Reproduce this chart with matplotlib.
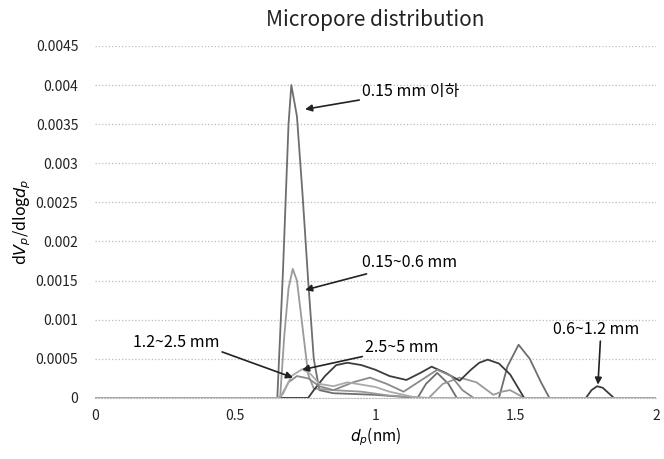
import numpy as np
import matplotlib
matplotlib.use('Agg')
import matplotlib.pyplot as plt

plt.rcParams['font.family'] = ['Noto Sans CJK KR', 'DejaVu Sans']

# Pore size (nm) and dV/dlogd for each sample
x_a = [0, 0.6, 0.65, 0.67, 0.69, 0.70, 0.72, 0.74, 0.76, 0.78, 0.80, 0.85, 1.0,
       1.15, 1.18, 1.22, 1.26, 1.29, 1.44, 1.47, 1.51, 1.55, 1.59, 1.62, 2.0]
y_a = [0, 0, 0, 0.0016, 0.0035, 0.0040, 0.0036, 0.0026, 0.0015, 0.0005, 0.0001, 0.00006, 0.00004,
       0, 0.00018, 0.00032, 0.00018, 0, 0, 0.0004, 0.00068, 0.0005, 0.0002, 0, 0]

x_b = [0, 0.6, 0.66, 0.675, 0.69, 0.705, 0.72, 0.74, 0.76, 0.78, 0.85, 0.95, 1.05, 1.19,
       1.24, 1.30, 1.36, 1.42, 1.45, 1.48, 1.53, 2.0]
y_b = [0, 0, 0, 0.0008, 0.0014, 0.00165, 0.0015, 0.0009, 0.0003, 0.00012, 0.0001, 0.00008, 0.00003, 0,
       0.00018, 0.00026, 0.0002, 0.00004, 0.00008, 0.0001, 0, 0]

x_c = [0, 0.76, 0.78, 0.82, 0.86, 0.90, 0.95, 1.0, 1.05, 1.11, 1.16, 1.20, 1.25,
       1.30, 1.34, 1.37, 1.40, 1.44, 1.48, 1.53, 1.75, 1.77, 1.79, 1.81, 1.85, 2.0]
y_c = [0, 0, 0.0001, 0.00028, 0.00042, 0.00045, 0.00042, 0.00036, 0.00028, 0.00023, 0.00032, 0.0004, 0.00032,
       0.00022, 0.00036, 0.00045, 0.00049, 0.00044, 0.0003, 0, 0, 0.0001, 0.00015, 0.00013, 0, 0]

x_d = [0, 0.64, 0.66, 0.69, 0.72, 0.76, 0.80, 0.85, 0.92, 0.98, 1.04, 1.10, 1.16,
       1.22, 1.27, 1.31, 1.35, 2.0]
y_d = [0, 0, 0, 0.0002, 0.00028, 0.00025, 0.00015, 0.0001, 0.0002, 0.00026, 0.00018, 0.00008, 0.00022,
       0.00036, 0.00028, 0.0001, 0, 0]

x_e = [0, 0.65, 0.67, 0.70, 0.74, 0.77, 0.80, 0.85, 0.90, 0.95, 1.0, 1.05, 1.10, 1.15, 2.0]
y_e = [0, 0, 0.00005, 0.00028, 0.00037, 0.0003, 0.00018, 0.00015, 0.0002, 0.00017, 0.00014, 0.00008, 0.00004, 0, 0]

y_ticks = [0, 0.0005, 0.001, 0.0015, 0.002, 0.0025, 0.003, 0.0035, 0.004, 0.0045]
y_tick_labels = ['0', '0.0005', '0.001', '0.0015', '0.002', '0.0025', '0.003', '0.0035', '0.004', '0.0045']
x_ticks = [0, 0.5, 1, 1.5, 2]
x_tick_labels = ['0', '0.5', '1', '1.5', '2']

fig = plt.figure(figsize=(6.64, 4.59), dpi=100)
ax = fig.add_axes([0.143, 0.133, 0.845, 0.767])

ax.plot(x_a, y_a, color='#6e6e6e', lw=1.3)
ax.plot(x_b, y_b, color='#9a9a9a', lw=1.3)
ax.plot(x_c, y_c, color='#3c3c3c', lw=1.3)
ax.plot(x_d, y_d, color='#8a8a8a', lw=1.3)
ax.plot(x_e, y_e, color='#aaaaaa', lw=1.3)

ax.set_xlim(0, 2)
ax.set_ylim(0, 0.0045)
ax.set_xticks(x_ticks)
ax.set_xticklabels(x_tick_labels)
ax.set_yticks(y_ticks)
ax.set_yticklabels(y_tick_labels)
ax.tick_params(length=0, labelsize=10, colors='#222222')
ax.tick_params(axis='y', pad=12)
ax.tick_params(axis='x', pad=8)
ax.grid(axis='y', color='#bbbbbb', ls=':', lw=0.9)
for s in ['top', 'right', 'left']:
    ax.spines[s].set_visible(False)
ax.spines['bottom'].set_color('#bbbbbb')
ax.spines['bottom'].set_linestyle(':')

ax.set_title('Micropore distribution', fontsize=15, pad=14, color='#222222')
ax.set_xlabel(r'$d_p$(nm)', fontsize=11, labelpad=2)
ax.set_ylabel(r'd$V_p$/dlog$d_p$', fontsize=11.5, labelpad=2)

arr = dict(arrowstyle='-|>', color='#222222', lw=1.2, mutation_scale=10, shrinkA=0, shrinkB=0)
ax.annotate('0.15 mm 이하', xy=(0.749, 0.00369), xytext=(0.952, 0.00392),
            fontsize=11.5, va='center', ha='left', arrowprops=arr)
ax.annotate('0.15~0.6 mm', xy=(0.749, 0.00138), xytext=(0.952, 0.00173),
            fontsize=11.5, va='center', ha='left', arrowprops=arr)
ax.annotate('2.5~5 mm', xy=(0.738, 0.00036), xytext=(0.963, 0.00064),
            fontsize=11.5, va='center', ha='left', arrowprops=arr)
ax.annotate('1.2~2.5 mm', xy=(0.706, 0.00026), xytext=(0.135, 0.00071),
            fontsize=11.5, va='center', ha='left', arrowprops=dict(arr, relpos=(1.0, 0.0)))
ax.annotate('0.6~1.2 mm', xy=(1.793, 0.00017), xytext=(1.633, 0.00087),
            fontsize=11.5, va='center', ha='left', arrowprops=dict(arr, relpos=(0.55, 0.0)))

fig.savefig('out.png', dpi=100)
